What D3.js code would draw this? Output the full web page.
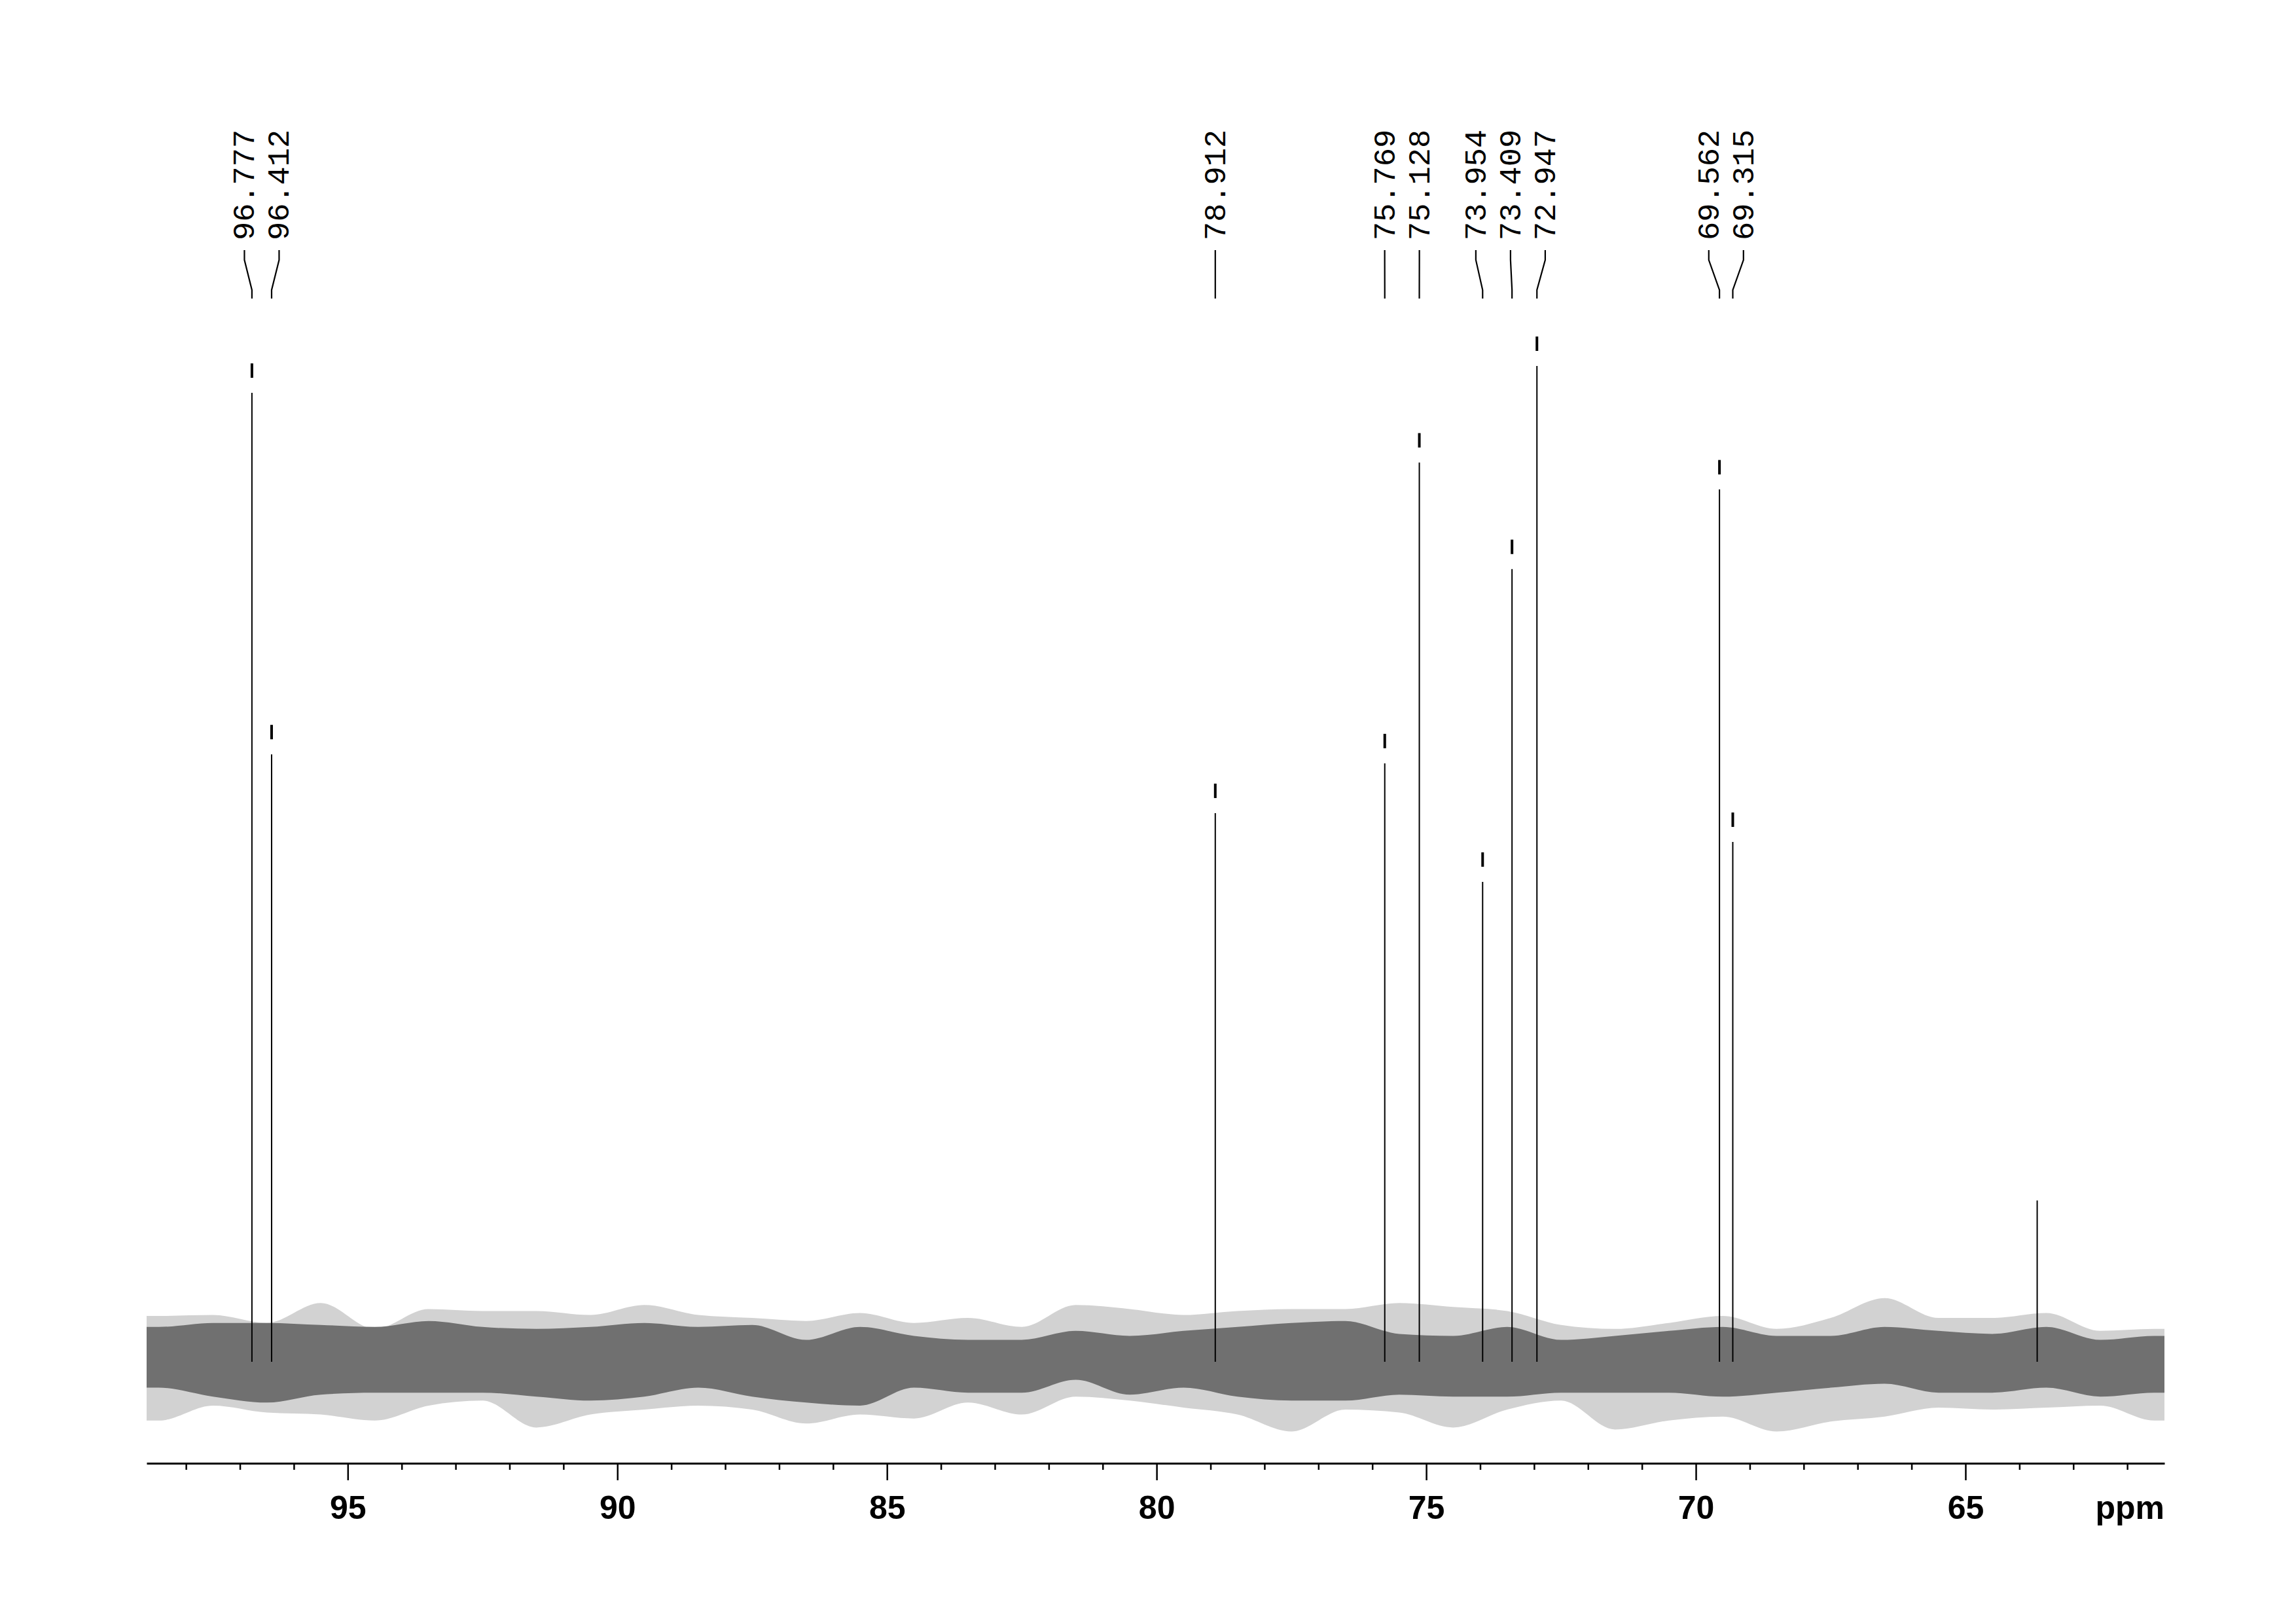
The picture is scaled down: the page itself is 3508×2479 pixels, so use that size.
<!DOCTYPE html>
<html>
<head>
<meta charset="utf-8">
<script src="https://cdn.jsdelivr.net/npm/d3@7"></script>
<style>
  html, body { margin: 0; padding: 0; background: #ffffff; }
  svg { display: block; }
</style>
</head>
<body>
<script>
// ---------------- DATA ----------------
const peakPpm     = [96.777, 96.412, 78.912, 75.769, 75.128, 73.954, 73.409, 72.947, 69.562, 69.315];
const peakLabels  = ["96.777", "96.412", "78.912", "75.769", "75.128", "73.954", "73.409", "72.947", "69.562", "69.315"];
const peakHeights = [97.3, 61.0, 55.1, 60.1, 90.3, 48.2, 79.6, 100.0, 87.6, 52.2];

const extraPeakPpm     = [63.67];
const extraPeakHeights = [16.2];

// noise band envelope read from the baseline (bin centres, ppm)
const noisePpm = [98.73, 98.5, 97.5, 96.5, 95.5, 94.5, 93.5, 92.5, 91.5, 90.5, 89.5, 88.5, 87.5, 86.5, 85.5, 84.5,
                  83.5, 82.5, 81.5, 80.5, 79.5, 78.5, 77.5, 76.5, 75.5, 74.5, 73.5, 72.5, 71.5, 70.5, 69.5,
                  68.5, 67.5, 66.5, 65.5, 64.5, 63.5, 62.5, 61.5, 61.31];
const noiseCoreHi  = [3.5, 3.5, 3.9, 3.9, 3.7, 3.5, 4.1, 3.5, 3.3, 3.5, 3.9, 3.5, 3.7, 2.2, 3.5, 2.6,
                      2.2, 2.2, 3.1, 2.6, 3.1, 3.5, 3.9, 4.1, 2.8, 2.6, 3.5, 2.2, 2.6, 3.1, 3.5,
                      2.6, 2.6, 3.5, 3.1, 2.8, 3.5, 2.2, 2.6, 2.6];
const noiseCoreLo  = [-2.6, -2.6, -3.5, -4.1, -3.3, -3.1, -3.1, -3.1, -3.5, -3.9, -3.5, -2.6, -3.5, -4.1, -4.4, -2.6,
                      -3.1, -3.1, -1.8, -3.3, -2.6, -3.5, -3.9, -3.9, -3.3, -3.5, -3.5, -3.1, -3.1, -3.1, -3.5,
                      -3.1, -2.6, -2.2, -3.1, -3.1, -2.6, -3.5, -3.1, -3.1];
const noiseOuterHi = [4.6, 4.6, 4.7, 3.9, 5.9, 3.3, 5.3, 5.1, 5.1, 4.7, 5.7, 4.7, 4.4, 4.1, 4.9, 3.9,
                      4.4, 3.5, 5.7, 5.3, 4.7, 5.1, 5.3, 5.3, 5.9, 5.5, 5.1, 3.7, 3.3, 3.9, 4.6,
                      3.3, 4.4, 6.4, 4.4, 4.4, 4.9, 3.1, 3.3, 3.3];
const noiseOuterLo = [-5.9, -5.9, -4.4, -5.1, -5.3, -5.9, -4.4, -3.9, -6.6, -5.3, -4.8, -4.4, -4.8, -6.2, -5.3, -5.7,
                      -4.1, -5.3, -3.5, -3.9, -4.6, -5.3, -7.0, -4.8, -5.1, -6.6, -4.8, -3.9, -6.8, -5.9, -5.5,
                      -7.0, -6.0, -5.5, -4.6, -4.8, -4.6, -4.4, -5.9, -5.9];

const tickMajor = [95, 90, 85, 80, 75, 70, 65];
const tickMinor = [98, 97, 96, 94, 93, 92, 91, 89, 88, 87, 86, 84, 83, 82, 81, 79, 78, 77, 76, 74, 73, 72, 71, 69, 68, 67, 66, 64, 63, 62];
const axisUnit = "ppm";

// ---------------- LAYOUT ----------------
const W = 3508, H = 2479;
const axisY = 2235;

const svg = d3.select("body").append("svg")
  .attr("width", W).attr("height", H)
  .attr("viewBox", `0 0 ${W} ${H}`);

svg.append("rect").attr("width", W).attr("height", H).attr("fill", "#ffffff");

const x = d3.scaleLinear().domain([98.73, 61.31]).range([224, 3307]);
const y = d3.scaleLinear().domain([0, 100]).range([2080, 559]);

// ---------------- NOISE BAND ----------------
const noiseRows = noisePpm.map((p, i) => ({
  p, chi: noiseCoreHi[i], clo: noiseCoreLo[i], ohi: noiseOuterHi[i], olo: noiseOuterLo[i]
}));

svg.append("path")
  .datum(noiseRows)
  .attr("fill", "#d2d2d2")
  .attr("d", d3.area().curve(d3.curveMonotoneX).x(d => x(d.p)).y0(d => y(d.olo)).y1(d => y(d.ohi)));

svg.append("path")
  .datum(noiseRows)
  .attr("fill", "#707070")
  .attr("d", d3.area().curve(d3.curveMonotoneX).x(d => x(d.p)).y0(d => y(d.clo)).y1(d => y(d.chi)));

// ---------------- PEAKS ----------------
const peaks = peakPpm.map((p, i) => ({ p, h: peakHeights[i], label: peakLabels[i], i }));
const extras = extraPeakPpm.map((p, i) => ({ p, h: extraPeakHeights[i] }));

svg.append("g").selectAll("line")
  .data(peaks.concat(extras))
  .join("line")
  .attr("x1", d => x(d.p)).attr("x2", d => x(d.p))
  .attr("y1", y(0)).attr("y2", d => y(d.h))
  .attr("stroke", "#000").attr("stroke-width", 2);

// peak top markers
svg.append("g").selectAll("rect")
  .data(peaks)
  .join("rect")
  .attr("x", d => x(d.p) - 2)
  .attr("y", d => y(d.h) - 45)
  .attr("width", 4)
  .attr("height", 22)
  .attr("fill", "#000");

// ---------------- LABEL LAYOUT (spread clustered labels) ----------------
const minGap = 53;
const items = peaks.map(d => ({ d, px: x(d.p) })).sort((a, b) => a.px - b.px);
let clusters = items.map(it => ({ items: [it], center: it.px }));
let merged = true;
while (merged) {
  merged = false;
  for (let k = 0; k < clusters.length - 1; k++) {
    const a = clusters[k], b = clusters[k + 1];
    const aEnd = a.center + (a.items.length - 1) / 2 * minGap;
    const bStart = b.center - (b.items.length - 1) / 2 * minGap;
    if (bStart - aEnd < minGap) {
      const its = a.items.concat(b.items);
      clusters.splice(k, 2, { items: its, center: d3.mean(its, t => t.px) });
      merged = true;
      break;
    }
  }
}
clusters.forEach(c => {
  const n = c.items.length;
  c.items.forEach((it, k) => { it.lx = c.center + (k - (n - 1) / 2) * minGap; });
});

const leader = d3.line();
const gLab = svg.append("g");
items.forEach(it => {
  gLab.append("path")
    .attr("d", leader([[it.lx, 382], [it.lx, 397], [it.px, 443], [it.px, 456]]))
    .attr("fill", "none").attr("stroke", "#000").attr("stroke-width", 2.2);
  gLab.append("text")
    .attr("transform", `translate(${it.lx},367) rotate(-90)`)
    .attr("dy", "0.32em")
    .attr("text-anchor", "start")
    .attr("font-family", "'Liberation Mono', 'DejaVu Sans Mono', monospace")
    .attr("font-size", 47)
    .attr("fill", "#000")
    .text(it.d.label);
});

// ---------------- AXIS ----------------
const gAxis = svg.append("g").attr("transform", `translate(0,${axisY})`);

gAxis.append("g")
  .call(d3.axisBottom(x).tickValues(tickMinor).tickSize(10).tickSizeOuter(0).tickFormat(""))
  .call(g => g.select(".domain").attr("stroke-width", 3).attr("stroke", "#000"))
  .call(g => g.selectAll(".tick line").attr("stroke-width", 2.5).attr("stroke", "#000"));

gAxis.append("g")
  .call(d3.axisBottom(x).tickValues(tickMajor).tickSize(26).tickSizeOuter(0).tickFormat(d3.format("d")))
  .call(g => g.select(".domain").remove())
  .call(g => g.selectAll(".tick line").attr("stroke-width", 2.5).attr("stroke", "#000"))
  .call(g => g.selectAll(".tick text")
    .attr("y", 85).attr("dy", 0)
    .attr("font-family", "'Liberation Sans', Arial, sans-serif")
    .attr("font-weight", "bold")
    .attr("font-size", 50)
    .attr("fill", "#000"));

svg.append("text")
  .attr("x", 3307).attr("y", axisY + 85)
  .attr("text-anchor", "end")
  .attr("font-family", "'Liberation Sans', Arial, sans-serif")
  .attr("font-weight", "bold")
  .attr("font-size", 50)
  .attr("fill", "#000")
  .text(axisUnit);
</script>
</body>
</html>
